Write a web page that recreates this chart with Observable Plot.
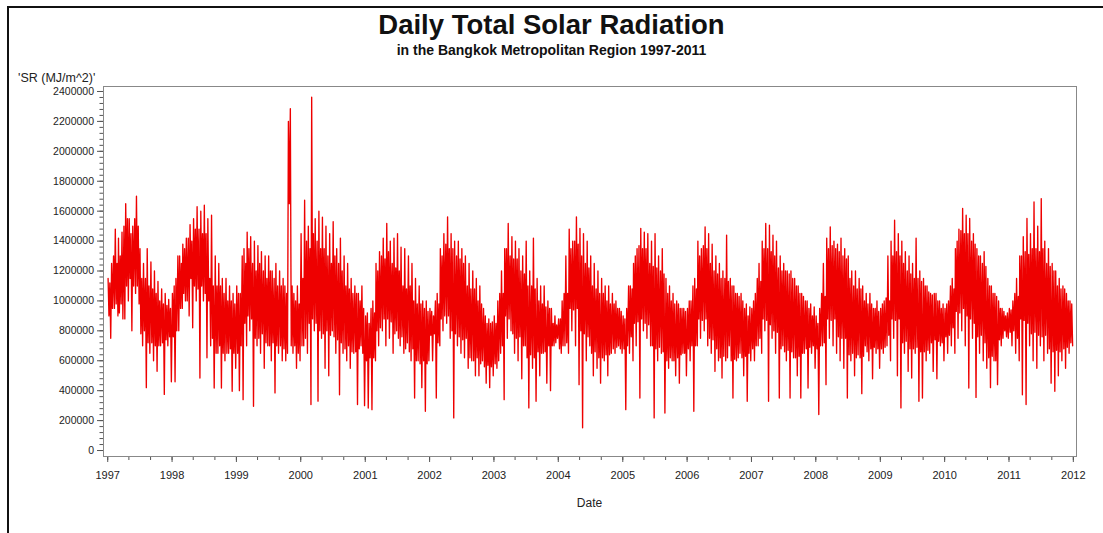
<!DOCTYPE html>
<html>
<head>
<meta charset="utf-8">
<script src="https://cdn.jsdelivr.net/npm/d3@7"></script>
<script src="https://cdn.jsdelivr.net/npm/@observablehq/plot@0.6"></script>
<style>
  body { margin: 0; background: #fff; font-family: "Liberation Sans", Arial, sans-serif; }
  #wrap { position: relative; width: 1103px; height: 533px; overflow: hidden; background: #fff; }
  #wrap svg { position: absolute; left: 0; top: 0; }
  #edge { position: absolute; left: 7px; top: 6px; right: 0; bottom: 0; border-left: 2px solid #111; border-top: 2px solid #111; pointer-events: none; }
  .t { position: absolute; white-space: nowrap; color: #111; }
  #title { left: 0; width: 1103px; text-align: center; top: 10.5px; font-size: 27.5px; line-height: 27.5px; font-weight: bold; }
  #subtitle { left: 0; width: 1103px; text-align: center; top: 43px; font-size: 14px; line-height: 14px; font-weight: bold; }
  #ylabel { left: 18px; top: 72px; font-size: 12.5px; line-height: 12.5px; color: #222; }
  #xlabel { left: 103px; width: 973px; text-align: center; top: 497px; font-size: 12px; line-height: 12px; color: #222; }
</style>
</head>
<body>
<div id="wrap">
  <div class="t" id="title">Daily Total Solar Radiation</div>
  <div class="t" id="subtitle">in the Bangkok Metropolitan Region 1997-2011</div>
  <div class="t" id="ylabel">'SR (MJ/m^2)'</div>
  <div class="t" id="xlabel">Date</div>
  <div id="edge"></div>
</div>
<script>
// Solar radiation, thousands of MJ/m^2.
// Six samples per month (days 3, 8, 13, 18, 23, 28), alternating the high and the low days.
const years = [1997, 1998, 1999, 2000, 2001, 2002, 2003, 2004, 2005, 2006, 2007, 2008, 2009, 2010, 2011];
const sampleDays = [3, 8, 13, 18, 23, 28];

const sr1997 = [1150,900,1120,750,1250,950, 1300,950,1480,980,1250,900, 1420,920,1300,980,1460,880, 1500,880,1650,1100,1550,1000, 1550,1150,1450,800,1500,1100, 1550,1050,1700,1100,1500,980, 1350,780,1150,700,1250,800, 1150,420,1350,720,1100,650, 1260,720,1080,600,1200,700, 1050,530,1130,700,1000,700, 1080,720,980,375,1050,740, 970,700,1010,760,950,460];
const sr1998 = [1050,760,1100,460,1150,800, 1300,800,1300,950,1250,950, 1380,1050,1350,1000,1420,1000, 1420,900,1510,1150,1400,820, 1550,1100,1480,1000,1630,1080, 1480,484,1600,1100,1450,1000, 1640,1050,1450,620,1550,1000, 1150,700,1573,750,1100,418, 1300,650,1100,650,1250,700, 1100,418,1150,650,1050,600, 1150,650,1000,650,1100,680, 1000,396,1050,650,980,550];
const sr1999 = [1100,650,1050,400,1050,700, 1300,340,1350,850,1250,700, 1460,900,1350,800,1430,880, 1250,296,1400,750,1200,700, 1370,750,1250,650,1330,780, 1200,550,1300,720,1150,700, 1300,700,1200,600,1200,720, 1150,385,1250,700,1100,650, 1200,700,1100,600,1150,680, 1100,600,1050,650,2200,1650, 2285,700,1100,650,1050,700, 1000,550,1100,650,980,600];
const sr2000 = [1450,700,1150,700,1673,750, 1400,650,1500,850,1350,307, 2362,880,1450,800,1550,850, 1400,330,1600,800,1350,750, 1560,780,1350,550,1500,800, 1300,500,1450,770,1250,800, 1530,760,1300,650,1350,740, 1250,373,1420,720,1200,650, 1300,680,1100,600,1250,700, 1080,550,1150,660,1050,650, 1100,660,1050,307,1050,680, 1000,700,1100,650,950,300];
const sr2001 = [900,600,920,284,850,620, 950,273,1000,620,920,600, 1250,800,1200,700,1330,820, 1300,800,1420,880,1280,700, 1518,880,1330,750,1400,860, 1250,650,1420,780,1220,800, 1450,750,1200,700,1360,760, 1100,650,1350,680,1080,720, 1300,660,1100,600,1250,680, 1000,351,1150,600,980,600, 1100,580,980,420,1000,600, 950,262,1000,580,930,600];
const sr2002 = [950,770,930,600,900,780, 1000,351,1050,720,980,700, 1350,880,1300,800,1450,900, 1380,850,1562,900,1350,750, 1450,800,1350,218,1400,780, 1300,700,1400,760,1280,650, 1350,740,1250,620,1300,750, 1100,550,1250,620,1080,600, 1200,600,1080,500,1150,620, 1000,500,1100,580,980,600, 950,560,900,450,850,570, 880,420,850,560,860,500];
const sr2003 = [900,580,850,550,1000,600, 1050,650,1200,700,1050,340, 1350,900,1350,750,1518,880, 1300,800,1430,780,1280,650, 1400,750,1280,600,1350,760, 1200,480,1300,700,1180,700, 1400,620,1100,285,1200,640, 1100,550,1420,620,1080,329, 1150,660,1000,500,1100,650, 980,650,1100,660,960,450, 1000,700,950,400,950,700, 850,700,900,720,840,750];
const sr2004 = [880,680,880,650,1000,700, 1050,700,1300,720,1050,650, 1480,950,1350,800,1400,940, 1400,700,1562,950,1380,440, 1485,800,1300,152,1450,780, 1250,600,1400,760,1220,700, 1300,650,1100,500,1250,660, 1080,550,1200,620,1050,450, 1150,620,1050,600,1100,640, 1000,500,1100,640,980,650, 1050,680,980,650,1000,690, 950,700,950,680,930,650];
const sr2005 = [900,680,880,273,950,700, 1100,650,1100,760,1080,600, 1250,850,1300,700,1350,860, 1370,351,1485,880,1350,800, 1460,850,1350,750,1450,840, 1250,700,1400,700,1230,218, 1450,680,1220,600,1300,690, 1200,650,1350,660,1180,251, 1150,600,1050,550,1100,620, 1000,600,1050,600,980,500, 1000,620,980,450,950,640, 950,650,950,650,930,500];
const sr2006 = [950,680,1000,600,1000,700, 1100,262,1150,700,1080,700, 1400,880,1300,750,1350,870, 1370,800,1495,880,1350,700, 1450,750,1250,650,1380,740, 1200,529,1300,680,1180,600, 1250,620,1150,484,1200,630, 1150,600,1440,620,1130,700, 1150,600,1100,351,1100,610, 1050,600,1050,620,1030,650, 1050,620,1000,500,950,630, 980,329,900,650,960,600];
const sr2007 = [950,680,1000,600,1050,700, 1150,700,1250,750,1130,650, 1400,880,1350,800,1518,870, 1350,329,1507,840,1330,750, 1440,800,1300,650,1400,790, 1220,351,1300,680,1200,700, 1250,660,1200,600,1200,670, 1180,351,1200,660,1150,620, 1150,620,1100,500,1100,630, 1050,351,1050,650,1030,650, 1000,680,1000,418,950,690, 980,650,900,700,960,550];
const sr2008 = [900,680,850,240,950,700, 1050,700,1250,720,1030,440, 1420,880,1350,750,1495,870, 1370,700,1400,880,1350,650, 1380,760,1330,600,1420,750, 1300,550,1350,750,1280,351, 1300,640,1150,600,1200,650, 1100,500,1200,620,1080,640, 1150,620,1080,380,1100,630, 1000,700,1050,660,980,600, 1050,680,980,480,950,690, 950,650,1000,680,930,550];
const sr2009 = [950,680,980,650,1000,690, 1020,700,1300,770,1000,600, 1400,880,1300,750,1540,870, 1330,500,1450,880,1300,285, 1400,720,1250,650,1330,730, 1200,529,1300,680,1180,484, 1250,680,1150,650,1420,690, 1150,329,1200,660,1130,351, 1150,660,1100,600,1100,670, 1060,650,1050,720,1040,529, 1050,740,1050,480,1000,730, 1000,700,950,720,980,600];
const sr2010 = [950,760,980,650,1000,770, 1100,700,1150,820,1080,650, 1350,930,1400,750,1480,920, 1470,800,1618,950,1450,700, 1573,900,1450,418,1551,880, 1400,750,1450,850,1380,355, 1350,760,1300,650,1300,770, 1250,600,1330,720,1230,550, 1150,620,1100,420,1100,630, 1050,600,1050,600,1030,440, 1000,740,950,700,950,750, 930,800,900,760,920,750];
const sr2011 = [950,790,940,700,1000,800, 1050,650,1150,750,1030,600, 1300,880,1300,373,1429,870, 1330,307,1551,850,1310,700, 1450,780,1350,600,1662,790, 1350,550,1500,770,1330,700, 1684,760,1350,600,1400,770, 1250,650,1350,680,1230,450, 1250,660,1200,396,1200,670, 1100,500,1150,660,1080,600, 1100,680,1080,550,1050,690, 1000,650,1000,720,980,700];

const seriesByYear = [sr1997, sr1998, sr1999, sr2000, sr2001, sr2002, sr2003, sr2004, sr2005, sr2006, sr2007, sr2008, sr2009, sr2010, sr2011];

// Axis ticks
const yMajor = d3.range(0, 2400001, 200000);
const yMinor = d3.range(0, 2400001, 40000);
const xMajor = d3.range(1997, 2013).map(y => new Date(Date.UTC(y, 0, 1)));
const xMinor = d3.utcMonth.every(4).range(new Date(Date.UTC(1997, 0, 1)), new Date(Date.UTC(2012, 0, 2)));

// Long table, one row per sample
const samples = [];
years.forEach((yr, i) => {
  seriesByYear[i].forEach((v, k) => {
    samples.push({ date: new Date(Date.UTC(yr, Math.floor(k / 6), sampleDays[k % 6])), sr: v * 1000 });
  });
});

const chart = Plot.plot({
  width: 1103,
  height: 533,
  marginLeft: 103,
  marginRight: 27,
  marginTop: 86,
  marginBottom: 77,
  style: { fontFamily: "'Liberation Sans', Arial, sans-serif", fontSize: "10.5px", color: "#222", background: "transparent" },
  x: { type: "utc", domain: [new Date(Date.UTC(1996, 11, 8)), new Date(Date.UTC(2012, 0, 19))] },
  y: { domain: [-40000, 2433333] },
  marks: [
    Plot.axisY(yMinor, { tickSize: 3.5, tickFormat: () => "", label: null, stroke: "#555" }),
    Plot.axisY(yMajor, { tickSize: 6, tickPadding: 3.5, tickFormat: d3.format("d"), label: null, stroke: "#555", fontSize: 10.5 }),
    Plot.axisX(xMinor, { tickSize: 4, tickFormat: () => "", label: null, stroke: "#555" }),
    Plot.axisX(xMajor, { tickSize: 6, tickPadding: 9, tickFormat: d3.utcFormat("%Y"), label: null, stroke: "#555", fontSize: 11 }),
    Plot.line(samples, { x: "date", y: "sr", stroke: "#ee0000", strokeWidth: 1.35 }),
    Plot.frame({ stroke: "#888" })
  ]
});

document.getElementById("wrap").prepend(chart);
</script>
</body>
</html>
